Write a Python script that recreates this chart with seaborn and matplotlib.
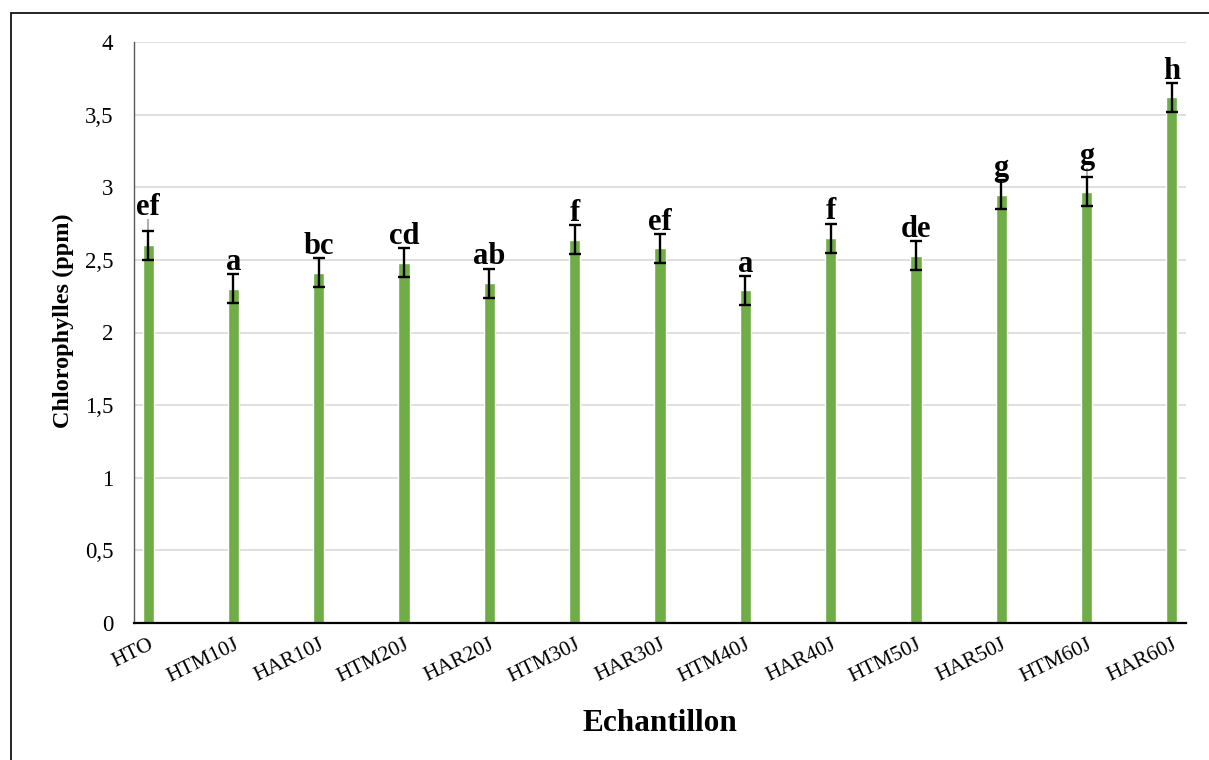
import matplotlib
matplotlib.use("Agg")
import matplotlib.pyplot as plt
from matplotlib.patches import Rectangle
from matplotlib.ticker import FuncFormatter, MultipleLocator
import numpy as np
import pandas as pd
import seaborn as sns

# Chlorophyll content per sample
samples = ["HTO", "HTM10J", "HAR10J", "HTM20J", "HAR20J", "HTM30J", "HAR30J",
           "HTM40J", "HAR40J", "HTM50J", "HAR50J", "HTM60J", "HAR60J"]
chlorophylls = [2.60, 2.30, 2.41, 2.48, 2.34, 2.64, 2.58,
                2.29, 2.65, 2.53, 2.95, 2.97, 3.62]
std_err = [0.10, 0.10, 0.10, 0.10, 0.10, 0.10, 0.10,
           0.10, 0.10, 0.10, 0.10, 0.10, 0.10]
# secondary (grey) upper whiskers present on two samples
alt_err = [0.18, 0, 0, 0, 0, 0, 0, 0, 0, 0, 0, 0.16, 0]
groups = ["ef", "a", "bc", "cd", "ab", "f", "ef", "a", "f", "de", "g", "g", "h"]

df = pd.DataFrame({"Echantillon": samples, "Chlorophylles": chlorophylls})

sns.set_theme(style="white")
plt.rcParams["font.family"] = ["Liberation Serif", "DejaVu Serif"]

W, H = 1209, 760
fig = plt.figure(figsize=(W / 100, H / 100), dpi=100)
ax = fig.add_axes([134 / W, 1 - 623 / H, (1186 - 134) / W, (623 - 42) / H])

sns.barplot(data=df, x="Echantillon", y="Chlorophylles", color="#70AD47",
            saturation=1, width=0.13, errorbar=None, ax=ax, zorder=2)

x = np.arange(len(samples))
# grey upper whiskers
mask = np.array(alt_err) > 0
ax.errorbar(x[mask], np.array(chlorophylls)[mask],
            yerr=[np.zeros(mask.sum()), np.array(alt_err)[mask]],
            fmt="none", ecolor="#A6A6A6", elinewidth=1.3, capsize=0, zorder=3)
# black error bars
ax.errorbar(x, chlorophylls, yerr=std_err, fmt="none", ecolor="black",
            elinewidth=1.7, capsize=4.5, capthick=1.7, zorder=4)

# significance letters
for xi, m, e, a, g in zip(x, chlorophylls, std_err, alt_err, groups):
    top = m + max(e, a)
    ax.annotate(g, (xi, top), xytext=(0, 3), textcoords="offset points",
                ha="center", va="baseline", fontsize=22, fontweight="bold",
                color="black", zorder=5)

ax.set_xlim(-0.165, len(samples) - 1 + 0.165)
ax.set_ylim(0, 4)
ax.yaxis.set_major_locator(MultipleLocator(0.5))
ax.yaxis.set_major_formatter(FuncFormatter(lambda v, p: f"{v:g}".replace(".", ",")))
ax.grid(axis="y", color="#D9D9D9", linewidth=1.2, zorder=0)
ax.grid(axis="x", visible=False)
ax.set_axisbelow(True)

for s in ["top", "right"]:
    ax.spines[s].set_visible(False)
ax.spines["left"].set_color("#595959")
ax.spines["left"].set_linewidth(1.0)
ax.spines["bottom"].set_color("black")
ax.spines["bottom"].set_linewidth(1.6)
ax.spines["bottom"].set_zorder(6)

ax.tick_params(axis="y", length=0, pad=15, labelsize=16.5, labelcolor="black")
ax.tick_params(axis="x", length=0, pad=9, labelsize=15.5, labelcolor="black")
for lab in ax.get_xticklabels():
    lab.set_rotation(26)
    lab.set_ha("right")
    lab.set_va("top")
    lab.set_rotation_mode("anchor")

ax.set_ylabel("Chlorophylles (ppm)", fontsize=17.5, fontweight="bold", color="black")
ax.yaxis.set_label_coords(-0.057, 0.52)
ax.set_xlabel("Echantillon", fontsize=22.5, fontweight="bold", color="black", labelpad=16)

# chart frame
fig.patches.append(Rectangle((11 / W, -0.05), 1.2, 1.05 - 13 / H,
                             transform=fig.transFigure, fill=False,
                             edgecolor="black", linewidth=1.2))

fig.savefig("out.png", dpi=100, facecolor="white")
